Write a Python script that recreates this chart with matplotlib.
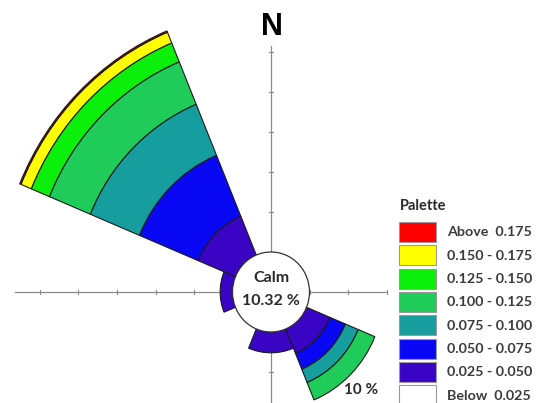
import numpy as np
import matplotlib
matplotlib.use("Agg")
import matplotlib.pyplot as plt
from matplotlib.patches import Wedge, Circle, Rectangle

# frequency (%) per class, inner class first
bin_labels = ["0.025 - 0.050", "0.050 - 0.075", "0.075 - 0.100", "0.100 - 0.125",
              "0.125 - 0.150", "0.150 - 0.175", "Above  0.175"]
bin_colors = ["#3a04c4", "#0808f5", "#169e9e", "#1fcc5a", "#0af00a", "#ffff00", "#ff0000"]

freq_nw = [10.5, 16.5, 13.8, 11.5, 5.1, 2.9, 0.35]
freq_w = [3.2, 0, 0, 0, 0, 0, 0]
freq_s = [5.2, 0, 0, 0, 0, 0, 0]
freq_se = [6.6, 4.3, 3.6, 4.7, 0, 0, 0]

directions = ["NW", "W", "S", "SE"]
bearings = [315, 270, 180, 135]
freqs = [freq_nw, freq_w, freq_s, freq_se]

calm_pct = 10.32
calm_r = 10          # calm circle radius, same as ring step
ring_step = 10       # percent per tick

legend_labels = ["Above  0.175", "0.150 - 0.175", "0.125 - 0.150", "0.100 - 0.125",
                 "0.075 - 0.100", "0.050 - 0.075", "0.025 - 0.050", "Below  0.025"]
legend_colors = ["#ff0000", "#ffff00", "#0af00a", "#1fcc5a",
                 "#169e9e", "#0808f5", "#3a04c4", "#ffffff"]

font = ["Lato", "DejaVu Sans"]

W, H = 543, 403
cx, cy = 271, 292        # rose centre, pixels
sx, sy = 3.85, 4.0       # pixels per percent

fig = plt.figure(figsize=(W / 100, H / 100), dpi=100)
ax = fig.add_axes([0, 0, 1, 1])
ax.set_xlim(-cx / sx, (W - cx) / sx)
ax.set_ylim(-(H - cy) / sy, cy / sy)
ax.axis("off")

# axis cross with ticks
gray = "#8a8a8a"
ax.plot([-66.5, 30], [0, 0], color=gray, lw=0.9, zorder=1)
ax.plot([0, 0], [-30, 61.5], color=gray, lw=0.9, zorder=1)
for k in range(1, 7):
    t = k * ring_step
    ax.plot([-t, -t], [-0.6, 0.6], color=gray, lw=0.8, zorder=1)
    ax.plot([-0.55, 0.55], [t, t], color=gray, lw=0.8, zorder=1)
    if k <= 3:
        ax.plot([t, t], [-0.6, 0.6], color=gray, lw=0.8, zorder=1)
        ax.plot([-0.55, 0.55], [-t, -t], color=gray, lw=0.8, zorder=1)

# sectors, 45 degrees wide
for b, f in zip(bearings, freqs):
    th1 = 90 - b - 22.5
    th2 = 90 - b + 22.5
    r = calm_r
    for val, col in zip(f, bin_colors):
        if val <= 0:
            continue
        w = Wedge((0, 0), r + val, th1, th2, width=val, facecolor=col,
                  edgecolor="#1a1a1a", lw=0.8, zorder=2)
        ax.add_patch(w)
        r += val

ax.add_patch(Circle((0, 0), calm_r, facecolor="white", edgecolor="#333333",
                    lw=0.9, zorder=3))
ax.text(0, 3.4, "Calm", ha="center", va="center", fontsize=11.5,
        fontweight="bold", color="#2a2a2a", family=font, zorder=4)
ax.text(0, -2.3, f"{calm_pct:.2f} %", ha="center", va="center", fontsize=11.5,
        fontweight="bold", color="#2a2a2a", family=font, zorder=4)

ax.text(0.3, 66.2, "N", ha="center", va="center", fontsize=22,
        fontweight="bold", color="black", family=["Liberation Sans", "DejaVu Sans"])
ax.text(23.4, -24.6, f"{ring_step} %", ha="center", va="center", fontsize=11,
        fontweight="bold", color="#2a2a2a", family=font, zorder=4)

# palette legend, laid out in pixels
lax = fig.add_axes([0, 0, 1, 1], facecolor="none")
lax.set_xlim(0, W)
lax.set_ylim(H, 0)
lax.axis("off")
lax.text(400, 206, "Palette", ha="left", va="center", fontsize=10.5,
         fontweight="bold", color="#2a2a2a", family=font)
for i, (lab, col) in enumerate(zip(legend_labels, legend_colors)):
    yc = 232 + 23.3 * i
    lax.add_patch(Rectangle((399, yc - 10), 37, 20, facecolor=col,
                            edgecolor="#9a9a9a", lw=0.8))
    lax.text(447, yc + 0.5, lab, ha="left", va="center", fontsize=10.3,
             fontweight="bold", color="#3b3b3b", family=font)

fig.savefig("out.png", dpi=100)
